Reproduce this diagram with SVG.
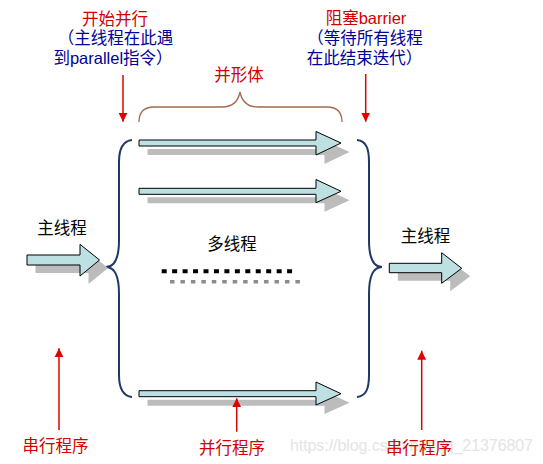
<svg xmlns="http://www.w3.org/2000/svg" width="543" height="464" viewBox="0 0 543 464">
<defs>
<style>
.t{font-family:"Liberation Sans","Noto Sans CJK SC",sans-serif;font-size:16.5px;text-anchor:middle}
.red{fill:#d00000}
.blue{fill:#000099}
.blk{fill:#000}
.arr{fill:#bde0e3;stroke:#000;stroke-width:1}
.sh{fill:#bcbcbc}
.brace{fill:none;stroke:#1f3864;stroke-width:2}
.pbrace{fill:none;stroke:#a06a4c;stroke-width:1.3}
.rl{stroke:#e00000;stroke-width:1.5;fill:none;marker-end:url(#rh)}
.wm{font-family:"Liberation Sans",sans-serif;font-size:16px;fill:#e4e4e4}
</style>
<marker id="rh" markerUnits="userSpaceOnUse" markerWidth="10" markerHeight="10" refX="9" refY="5" orient="auto">
<path d="M0,0.5 L9,5 L0,9.5 Z" fill="#e00000"/>
</marker>
</defs>
<rect width="543" height="464" fill="#fff"/>
<text class="wm" x="290" y="451" textLength="243">https://blog.csdn.net/qq_21376807</text>

<g id="braces">
<path class="brace" d="M132,140 C123,141 119,148 119,162 L119,240 C119,258 114,267 106,267 C114,267 119,276 119,294 L119,375 C119,389 123,396 132,397"/>
<path class="brace" d="M357,140 C366,141 369,148 369,162 L369,240 C369,258 374,267 382,267 C374,267 369,276 369,294 L369,375 C369,389 366,396 357,397"/>
<path class="pbrace" d="M139,122 C139,112 144,107 154,107 L222,107 C232,107 238,102 240,92 C242,102 248,107 258,107 L327,107 C337,107 342,112 342,122"/>
</g>

<g id="thread1">
<path class="sh" transform="translate(8.5,9)" d="M139,140 L316,140 L316,131.5 L341,143 L316,155 L316,146 L139,146 Z"/>
<path class="arr" d="M139,140 L316,140 L316,131.5 L341,143 L316,155 L316,146 L139,146 Z"/>
</g>
<g id="thread2">
<path class="sh" transform="translate(8.5,9)" d="M139,188.3 L316,188.3 L316,179.5 L341,191.3 L316,202.7 L316,194.3 L139,194.3 Z"/>
<path class="arr" d="M139,188.3 L316,188.3 L316,179.5 L341,191.3 L316,202.7 L316,194.3 L139,194.3 Z"/>
</g>
<g id="thread3">
<path class="sh" transform="translate(8.5,9)" d="M139,390.7 L316,390.7 L316,382 L341,393.7 L316,405 L316,396.7 L139,396.7 Z"/>
<path class="arr" d="M139,390.7 L316,390.7 L316,382 L341,393.7 L316,405 L316,396.7 L139,396.7 Z"/>
</g>
<g id="main-left">
<path class="sh" transform="translate(8.5,8)" d="M27,255 L80,255 L80,244.3 L99.5,260 L80,276 L80,265 L27,265 Z"/>
<path class="arr" d="M27,255 L80,255 L80,244.3 L99.5,260 L80,276 L80,265 L27,265 Z"/>
<text class="t blk" x="62" y="233.5">主线程</text>
</g>
<g id="main-right">
<path class="sh" transform="translate(8.5,8)" d="M389.3,263.3 L441.7,263.3 L441.7,252.7 L461.7,268.3 L441.7,283.3 L441.7,272.7 L389.3,272.7 Z"/>
<path class="arr" d="M389.3,263.3 L441.7,263.3 L441.7,252.7 L461.7,268.3 L441.7,283.3 L441.7,272.7 L389.3,272.7 Z"/>
<text class="t blk" x="425.5" y="242">主线程</text>
</g>
<g id="multi">
<text class="t blk" x="232" y="250">多线程</text>
<line x1="161.7" y1="271.3" x2="293" y2="271.3" stroke="#000" stroke-width="4" stroke-dasharray="5 5.45"/>
<line x1="170" y1="281.7" x2="301" y2="281.7" stroke="#8c8c8c" stroke-width="3.5" stroke-dasharray="4.5 5.95"/>
</g>

<g id="label-start">
<text class="t red" x="115" y="25">开始并行</text>
<text class="t blue" x="115.5" y="43.5">（主线程在此遇</text>
<text class="t blue" x="113" y="63.5">到parallel指令）</text>
</g>
<g id="label-barrier">
<text class="t red" x="366" y="24">阻塞barrier</text>
<text class="t blue" x="365" y="43.5">（等待所有线程</text>
<text class="t blue" x="364.5" y="63.5">在此结束迭代）</text>
</g>
<g id="label-team">
<text class="t red" x="239" y="80.5">并形体</text>
</g>
<g id="label-serial-left">
<text class="t red" x="55.5" y="452">串行程序</text>
</g>
<g id="label-parallel">
<text class="t red" x="232" y="453.5">并行程序</text>
</g>
<g id="label-serial-right">
<text class="t red" x="419" y="453.5">串行程序</text>
</g>

<g id="connectors">
<line class="rl" x1="123" y1="75" x2="123" y2="121.7"/>
<line class="rl" x1="365.7" y1="74" x2="365.7" y2="121.7"/>
<line class="rl" x1="59" y1="430" x2="59" y2="348.3"/>
<line class="rl" x1="236.7" y1="431.7" x2="236.7" y2="398.3"/>
<line class="rl" x1="421.7" y1="430" x2="421.7" y2="350.7"/>
</g>
</svg>
